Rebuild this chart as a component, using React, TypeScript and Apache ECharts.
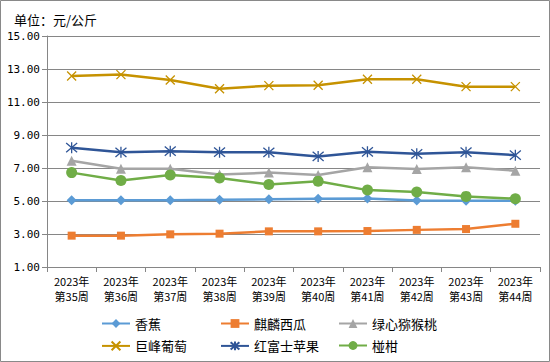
import React, { useEffect, useRef } from "react";
import * as echarts from "echarts";

const categories = [
  "2023年\n第35周", "2023年\n第36周", "2023年\n第37周", "2023年\n第38周", "2023年\n第39周",
  "2023年\n第40周", "2023年\n第41周", "2023年\n第42周", "2023年\n第43周", "2023年\n第44周",
];
const banana = [5.04, 5.04, 5.05, 5.07, 5.1, 5.14, 5.15, 5.03, 5.02, 5.02];
const watermelon = [2.9, 2.9, 2.98, 3.02, 3.16, 3.16, 3.18, 3.25, 3.3, 3.62];
const kiwi = [7.44, 6.96, 6.96, 6.6, 6.72, 6.58, 7.04, 6.94, 7.04, 6.84];
const grape = [12.58, 12.66, 12.33, 11.8, 11.99, 12.02, 12.38, 12.38, 11.93, 11.93];
const apple = [8.23, 7.95, 8.02, 7.96, 7.95, 7.7, 7.98, 7.86, 7.96, 7.78];
const ponkan = [6.72, 6.24, 6.58, 6.4, 6.0, 6.2, 5.66, 5.54, 5.28, 5.14];
const yTicks = { min: 1, max: 15, interval: 2 };

const CJK = '"Noto Sans CJK SC", "Noto Sans", sans-serif';
const CROSS = "path://M0 0L10 10M10 0L0 10";
const STAR = "path://M0 0L10 10M10 0L0 10M5 -1L5 11";

export default function App() {
  const ref = useRef<HTMLDivElement>(null);
  useEffect(() => {
    document.body.style.margin = "0";
    const chart = echarts.init(ref.current!, undefined, { renderer: "svg" });
    const mk = (name: string, data: number[], color: string, symbol: string, size: number, open = false) => ({
      name,
      type: "line",
      data,
      symbol,
      symbolSize: size,
      lineStyle: { color, width: 2.5 },
      itemStyle: open
        ? { color: "none", borderColor: color, borderWidth: 1.3 }
        : { color, borderColor: color, borderWidth: 0 },
      emphasis: { disabled: true },
    });
    const names = ["香蕉", "麒麟西瓜", "绿心猕猴桃", "巨峰葡萄", "红富士苹果", "椪柑"];
    const legPos = [
      [96, 312], [215, 312], [333, 312],
      [96, 334], [215, 334], [333, 334],
    ];
    chart.setOption({
      animation: false,
      backgroundColor: "#fff",
      title: {
        text: "单位：元/公斤",
        left: 9,
        top: 8,
        textStyle: { fontFamily: CJK, fontSize: 13, fontWeight: "normal", color: "#000" },
      },
      graphic: [
        {
          type: "rect",
          shape: { x: 0.5, y: 0.5, width: 549, height: 361 },
          style: { fill: "none", stroke: "#898989", lineWidth: 1 },
          silent: true,
        },
      ],
      legend: names.map((n, i) => ({
        data: [n],
        left: legPos[i][0],
        top: legPos[i][1],
        itemWidth: 28,
        itemHeight: 11,
        itemGap: 4,
        textStyle: { fontFamily: CJK, fontSize: 13, color: "#000" },
        selectedMode: false,
      })),
      grid: { left: 47, right: 10, top: 36, bottom: 95 },
      xAxis: {
        type: "category",
        data: categories,
        boundaryGap: true,
        axisLine: { lineStyle: { color: "#868686" } },
        axisTick: { show: true, length: 5, lineStyle: { color: "#868686" } },
        axisLabel: { interval: 0, fontFamily: CJK, fontSize: 11, color: "#000", lineHeight: 15, margin: 6 },
      },
      yAxis: {
        type: "value",
        min: yTicks.min,
        max: yTicks.max,
        interval: yTicks.interval,
        axisLine: { show: true, lineStyle: { color: "#868686" } },
        axisTick: { show: true, length: 5, lineStyle: { color: "#868686" } },
        splitLine: { lineStyle: { color: "#868686" } },
        axisLabel: {
          formatter: (v: number) => v.toFixed(2),
          fontFamily: '"DejaVu Sans Mono", monospace',
          fontSize: 11,
          color: "#000",
          margin: 7,
        },
      },
      series: [
        mk("香蕉", banana, "#5B9BD5", "diamond", 10),
        mk("麒麟西瓜", watermelon, "#ED7D31", "rect", 8),
        mk("绿心猕猴桃", kiwi, "#A5A5A5", "triangle", 10),
        mk("巨峰葡萄", grape, "#C69200", CROSS, 9, true),
        mk("红富士苹果", apple, "#2F5597", STAR, 11, true),
        mk("椪柑", ponkan, "#70AD47", "circle", 11),
      ],
    });
    return () => chart.dispose();
  }, []);
  return (
    <div
      ref={ref}
      style={{ position: "absolute", left: 0, top: 0, width: 550, height: 362 }}
    />
  );
}
